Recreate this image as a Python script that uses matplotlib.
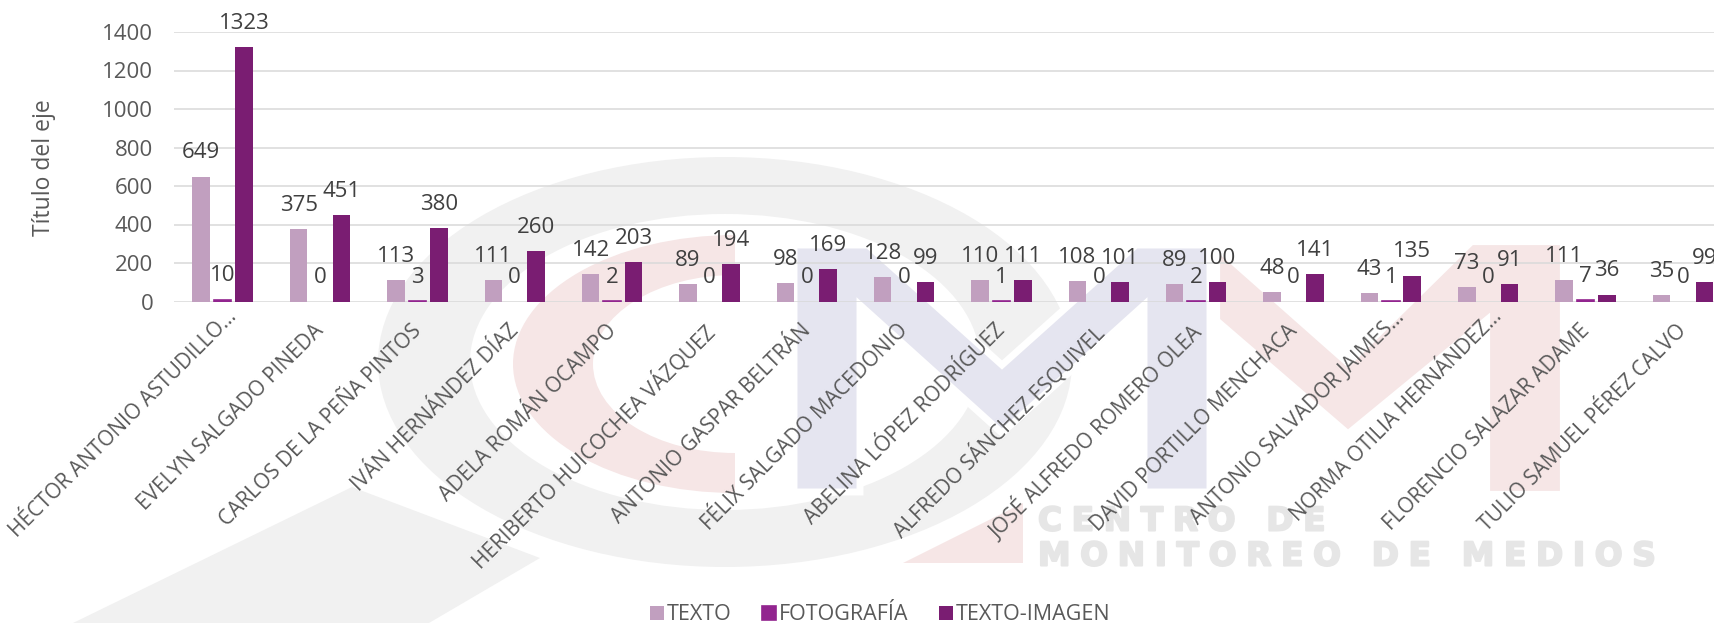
import numpy as np
import matplotlib
matplotlib.use('Agg')
import matplotlib.pyplot as plt
import matplotlib.patheffects as pe
from matplotlib.patches import Ellipse, Polygon, Rectangle
from matplotlib.transforms import ScaledTranslation

plt.rcParams['font.family'] = ['Open Sans', 'DejaVu Sans']

nombres = ['HÉCTOR ANTONIO ASTUDILLO…', 'EVELYN SALGADO PINEDA', 'CARLOS DE LA PEÑA PINTOS',
           'IVÁN HERNÁNDEZ DÍAZ', 'ADELA ROMÁN OCAMPO', 'HERIBERTO HUICOCHEA VÁZQUEZ',
           'ANTONIO GASPAR BELTRÁN', 'FÉLIX SALGADO MACEDONIO', 'ABELINA LÓPEZ RODRÍGUEZ',
           'ALFREDO SÁNCHEZ ESQUIVEL', 'JOSÉ ALFREDO ROMERO OLEA', 'DAVID PORTILLO MENCHACA',
           'ANTONIO SALVADOR JAIMES…', 'NORMA OTILIA HERNÁNDEZ…', 'FLORENCIO SALAZAR ADAME',
           'TULIO SAMUEL PÉREZ CALVO']
texto = [649, 375, 113, 111, 142, 89, 98, 128, 110, 108, 89, 48, 43, 73, 111, 35]
fotografia = [10, 0, 3, 0, 2, 0, 0, 0, 1, 0, 2, 0, 1, 0, 7, 0]
texto_imagen = [1323, 451, 380, 260, 203, 194, 169, 99, 111, 101, 100, 141, 135, 91, 36, 99]
series = ['TEXTO', 'FOTOGRAFÍA', 'TEXTO-IMAGEN']
colores = ['#c19fbf', '#92258f', '#7a1d72']
yticks = [0, 200, 400, 600, 800, 1000, 1200, 1400]

W, H = 1715, 623
fig = plt.figure(figsize=(W / 100, H / 100), dpi=100, facecolor='white')

# watermark behind the chart, in pixel coords
bg = fig.add_axes([0, 0, 1, 1], zorder=0)
bg.set_xlim(0, W)
bg.set_ylim(H, 0)
bg.axis('off')
gris = '#f1f1f1'
rosa = '#f6e6e6'
azul = '#e5e5f0'
bg.add_patch(Polygon([(352, 487), (540, 558), (429, 623), (73, 623)], fc=gris, ec='none'))
bg.add_patch(Ellipse((725, 362), 694, 410, fc=gris, ec='none'))
bg.add_patch(Ellipse((725, 362), 510, 296, fc='white', ec='none'))
clip = Rectangle((0, 0), 735, H, transform=bg.transData)
for w, h, c in [(444, 258, rosa), (284, 178, 'white')]:
    e = Ellipse((735, 364), w, h, fc=c, ec='none')
    bg.add_patch(e)
    e.set_clip_path(clip)
bg.add_patch(Polygon([(903, 563), (1023, 503), (1023, 563)], fc=rosa, ec='none'))
m1 = [(794, 245), (868, 245), (1002, 365), (1136, 245), (1210, 245), (1210, 492), (1144, 492),
      (1144, 305), (1002, 433), (860, 305), (860, 492), (794, 492)]
bg.add_patch(Polygon(m1, fc=azul, ec='white', lw=5))
m2 = [(1218, 250), (1348, 365), (1472, 243), (1562, 243), (1562, 493), (1488, 493), (1488, 317),
      (1348, 432), (1218, 320)]
bg.add_patch(Polygon(m2, fc=rosa, ec='white', lw=3))
hair = '\u200a'
for s, y in [('CENTRO DE', 521), ('MONITOREO DE MEDIOS', 556)]:
    bg.text(1038, y, (hair * 3).join(s), family='DejaVu Sans', weight='bold', fontsize=23.5,
            color='#e6e6e6', ha='left', va='center',
            path_effects=[pe.withStroke(linewidth=1.5, foreground='#e6e6e6')])

# main chart
ax = fig.add_axes([174 / W, (H - 301.5) / H, (W - 174) / W, 269.5 / H], zorder=1)
ax.patch.set_visible(False)
x = np.arange(len(nombres))
paso = 0.22
ancho = 0.18
for i, (vals, nom, col) in enumerate(zip([texto, fotografia, texto_imagen], series, colores)):
    pos = x + (i - 1) * paso
    ax.bar(pos, vals, ancho, color=col, label=nom, zorder=3,
           edgecolor=col, linewidth=[1.2 if 0 < v < 20 else 0 for v in vals])
    for p, v in zip(pos, vals):
        ax.annotate(str(v), (p, v), xytext=(0, 17), textcoords='offset points',
                    ha='center', va='center', fontsize=16, color='#404040', zorder=4,
                    annotation_clip=False)

ax.set_xlim(-0.5, 15.33)
ax.set_ylim(0, 1400)
ax.set_yticks(yticks)
ax.set_xticks(x)
ax.set_xticklabels(nombres, rotation=45, ha='right', va='top', rotation_mode='anchor',
                   fontsize=15, color='#595959')
ax.tick_params(axis='both', length=0)
ax.tick_params(axis='y', labelsize=16, labelcolor='#595959', pad=15)
# tick_params resets the label transforms, so shift the labels after it
# truncated names sit a bit higher than the full ones
for t in ax.get_xticklabels():
    if t.get_text().endswith('…'):
        desplaza = ScaledTranslation(2.5 / 72, 0, fig.dpi_scale_trans)
    else:
        desplaza = ScaledTranslation(-4.7 / 72, -9.9 / 72, fig.dpi_scale_trans)
    t.set_transform(t.get_transform() + desplaza)
ax.grid(axis='y', color='#d9d9d9', lw=1.1, zorder=1)
ax.set_axisbelow(True)
for s in ax.spines.values():
    s.set_visible(False)

fig.text(44 / W, 1 - 168 / H, 'Título del eje', rotation=90, ha='center', va='center',
         fontsize=16.5, color='#595959')

fig.legend(loc='center', bbox_to_anchor=(880 / W, 1 - 615 / H), ncol=3, frameon=False, fontsize=15.5,
           handlelength=0.65, handleheight=0.65, handletextpad=0.15, columnspacing=1.4,
           labelcolor='#595959')

fig.savefig('out.png', dpi=100)
